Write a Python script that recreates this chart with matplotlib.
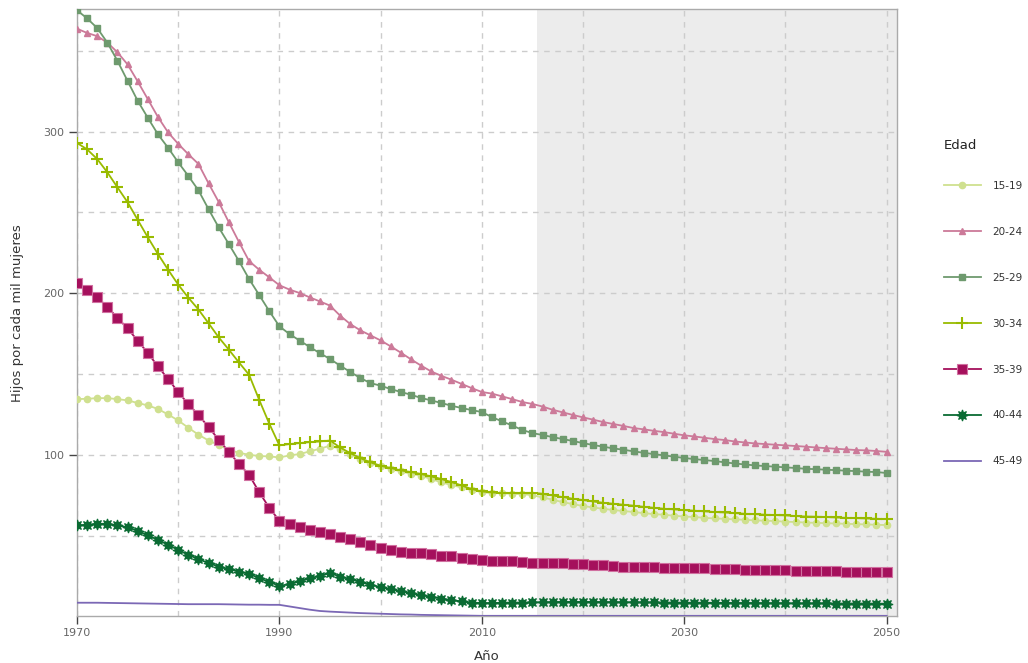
import matplotlib
matplotlib.use("Agg")
import matplotlib.pyplot as plt
from matplotlib.ticker import MultipleLocator, FixedLocator
import numpy as np

years = list(range(1970, 2051))

g15_19 = [134.6, 134.8, 135.2, 135.2, 134.6, 133.8, 132.2, 130.7, 128.5, 125.1,
          121.4, 116.9, 112.6, 109.0, 106.2, 103.3, 101.4, 100.2, 99.4, 99.2,
          98.5, 99.8, 100.6, 102.3, 103.9, 105.8, 103.9, 100.8, 97.7, 95.0,
          93.0, 91.4, 89.9, 88.5, 87.2, 85.2, 83.1, 81.5, 80.0, 78.6,
          77.1, 76.5, 76.5, 76.1, 75.9, 75.2, 73.8, 72.4, 70.9, 69.7,
          68.5, 67.6, 66.8, 66.0, 65.4, 64.8, 64.1, 63.5, 63.1, 62.5,
          62.0, 61.7, 61.2, 60.8, 60.6, 60.2, 60.0, 59.6, 59.4, 59.2,
          58.8, 58.6, 58.3, 58.1, 57.9, 57.7, 57.5, 57.3, 57.1, 56.9, 56.7]

g20_24 = [363.6, 361.0, 359.0, 355.0, 349.0, 341.5, 331.0, 320.0, 309.0, 299.5,
          292.4, 286.0, 280.0, 268.0, 256.5, 244.0, 231.8, 220.0, 214.6, 209.9,
          205.0, 202.3, 200.2, 197.5, 195.0, 192.4, 186.2, 181.0, 177.1, 174.0,
          170.9, 167.2, 163.3, 159.2, 155.3, 151.7, 149.0, 146.6, 144.0, 141.4,
          139.0, 138.0, 136.3, 134.6, 132.8, 131.6, 130.0, 128.0, 126.4, 124.8,
          123.3, 121.9, 120.4, 119.2, 118.0, 116.7, 115.9, 115.0, 114.2, 113.2,
          112.2, 111.5, 110.7, 109.9, 109.3, 108.4, 107.8, 107.2, 106.8, 106.4,
          106.0, 105.6, 105.2, 104.7, 104.3, 103.9, 103.5, 103.1, 102.9, 102.5, 102.0]

g25_29 = [375.0, 370.0, 364.0, 355.0, 343.7, 331.3, 319.0, 308.5, 298.3, 290.0,
          281.0, 272.6, 263.7, 252.0, 240.8, 230.5, 220.0, 208.9, 199.0, 189.0,
          179.6, 174.8, 170.8, 166.8, 163.0, 159.4, 155.3, 151.4, 147.6, 144.5,
          142.9, 140.8, 139.0, 137.3, 135.3, 133.8, 132.2, 130.5, 129.1, 127.8,
          126.6, 123.5, 120.8, 118.3, 115.5, 113.6, 112.4, 111.1, 109.9, 108.7,
          107.4, 106.2, 105.2, 104.1, 103.3, 102.3, 101.4, 100.6, 99.8, 99.0,
          98.2, 97.5, 96.9, 96.3, 95.5, 94.8, 94.2, 93.6, 93.2, 92.8,
          92.4, 92.0, 91.5, 91.3, 90.9, 90.7, 90.3, 90.1, 89.7, 89.5, 88.9]

g30_34 = [293.0, 289.0, 283.0, 274.8, 265.5, 256.3, 245.4, 234.6, 224.3, 214.6,
          205.4, 197.3, 190.0, 181.5, 172.8, 165.2, 157.3, 149.7, 134.2, 119.4,
          106.0, 106.8, 107.4, 108.0, 108.4, 109.0, 104.7, 101.2, 98.1, 95.5,
          93.4, 92.0, 90.5, 89.5, 88.3, 86.8, 85.2, 83.3, 81.2, 79.0,
          77.5, 76.9, 76.5, 76.5, 76.5, 76.7, 76.1, 75.0, 74.0, 73.0,
          72.2, 71.3, 70.5, 69.9, 69.3, 68.7, 68.0, 67.4, 66.8, 66.4,
          66.0, 65.6, 65.2, 64.8, 64.5, 64.1, 63.7, 63.5, 63.1, 62.9,
          62.7, 62.3, 62.0, 61.9, 61.7, 61.4, 61.2, 61.0, 60.8, 60.6, 60.4]

g35_39 = [206.4, 202.3, 197.5, 191.6, 184.8, 178.3, 170.7, 163.1, 154.8, 147.0,
          139.0, 131.5, 124.8, 117.3, 109.5, 102.0, 94.6, 87.8, 77.1, 67.4,
          59.4, 57.4, 55.4, 53.8, 52.4, 51.3, 49.5, 47.8, 46.0, 44.1,
          42.7, 41.3, 40.2, 39.6, 39.2, 38.8, 37.9, 37.3, 36.5, 35.7,
          35.0, 34.6, 34.4, 34.2, 34.0, 33.4, 33.2, 33.0, 33.0, 32.8,
          32.6, 32.2, 31.8, 31.5, 31.1, 31.1, 30.9, 30.7, 30.3, 30.3,
          30.1, 29.9, 29.9, 29.7, 29.5, 29.3, 29.1, 29.1, 28.9, 28.7,
          28.7, 28.5, 28.3, 28.3, 28.1, 28.1, 27.8, 27.8, 27.6, 27.6, 27.4]

g40_44 = [56.5, 56.9, 57.5, 57.5, 56.5, 55.3, 53.2, 50.3, 47.6, 44.5,
          41.4, 38.3, 35.7, 33.2, 31.1, 29.5, 28.0, 26.6, 23.9, 21.5,
          19.2, 20.1, 22.0, 23.7, 25.4, 27.0, 24.9, 23.3, 21.5, 19.8,
          18.4, 17.1, 15.9, 14.7, 13.4, 12.4, 11.3, 10.3, 9.5, 8.8,
          8.5, 8.5, 8.7, 8.8, 8.8, 8.9, 9.0, 9.1, 9.2, 9.2,
          9.2, 9.2, 9.1, 9.1, 9.0, 9.0, 8.9, 8.9, 8.8, 8.8,
          8.7, 8.7, 8.7, 8.6, 8.6, 8.5, 8.5, 8.5, 8.4, 8.4,
          8.4, 8.3, 8.3, 8.3, 8.3, 8.2, 8.2, 8.2, 8.2, 8.1, 8.1]

g45_49 = [8.7, 8.7, 8.7, 8.6, 8.5, 8.4, 8.3, 8.2, 8.1, 8.0,
          7.9, 7.8, 7.8, 7.8, 7.8, 7.7, 7.6, 7.5, 7.5, 7.4,
          7.4, 6.4, 5.4, 4.4, 3.6, 3.2, 2.9, 2.6, 2.3, 2.1,
          1.9, 1.7, 1.5, 1.4, 1.2, 1.1, 1.0, 0.9, 0.8, 0.7,
          0.6, 0.6, 0.6, 0.6, 0.6, 0.6, 0.6, 0.6, 0.6, 0.6,
          0.6, 0.6, 0.6, 0.6, 0.6, 0.6, 0.6, 0.6, 0.6, 0.6,
          0.6, 0.6, 0.6, 0.6, 0.6, 0.6, 0.6, 0.6, 0.6, 0.6,
          0.6, 0.6, 0.6, 0.6, 0.6, 0.6, 0.6, 0.6, 0.6, 0.6, 0.6]

labels = ["15-19", "20-24", "25-29", "30-34", "35-39", "40-44", "45-49"]
x_ticks = [1970, 1990, 2010, 2030, 2050]
y_ticks = [100, 200, 300]
projection_start = 2015.5

plt.rcParams['font.family'] = ['DejaVu Sans']

fig = plt.figure(figsize=(10.28, 6.63), dpi=100)
ax = fig.add_axes([0.0749, 0.0709, 0.7974, 0.9148])

ax.axvspan(projection_start, 2051, color="#ececec", zorder=0, lw=0)

styles = [
    dict(color="#cfe08f", marker="o", ms=4.5, mec="#cfe08f"),
    dict(color="#cc7a99", marker="^", ms=5, mec="#cc7a99"),
    dict(color="#6e9a6e", marker="s", ms=4.5, mec="#6e9a6e"),
    dict(color="#99bb00", marker="+", ms=8, mew=1.5),
    dict(color="#a5105c", marker="s", ms=6.5, mec="#d070a0", mew=0.8),
    dict(color="#0a6b33", marker=(8, 1, 0), ms=8, mec="#0a6b33", mew=0.8),
    dict(color="#7b68b5", marker=None),
]
series = [g15_19, g20_24, g25_29, g30_34, g35_39, g40_44, g45_49]
for vals, lab, st in zip(series, labels, styles):
    ax.plot(years, vals, lw=1.3, label=lab, zorder=3, **st)

ax.set_xlim(1970, 2051)
ax.set_ylim(0.5, 375.5)
ax.xaxis.set_major_locator(FixedLocator(x_ticks))
ax.xaxis.set_minor_locator(MultipleLocator(10))
ax.yaxis.set_major_locator(FixedLocator(y_ticks))
ax.yaxis.set_minor_locator(MultipleLocator(50))
ax.grid(which="both", color="#cccccc", linestyle=(0, (4, 4)), linewidth=1.0, zorder=1)
ax.set_axisbelow(True)
ax.tick_params(which="major", length=6, width=1, color="#444444",
               labelcolor="#666666", labelsize=8, pad=3)
ax.tick_params(which="minor", length=0)
for s in ax.spines.values():
    s.set_color("#aaaaaa")
    s.set_linewidth(1.0)

ax.set_xlabel("Año", fontsize=9.5, color="#333333", labelpad=8)
ax.set_ylabel("Hijos por cada mil mujeres", fontsize=9.5, color="#333333", labelpad=14)

leg = ax.legend(loc="upper left", bbox_to_anchor=(1.052, 0.794), frameon=False,
                title="Edad", fontsize=7.5, title_fontsize=9.5,
                labelspacing=3.45, handlelength=3.6, handletextpad=1.1,
                alignment="left", borderaxespad=0)
leg._legend_box.sep = 21
leg.get_title().set_color("#222222")
for t in leg.get_texts():
    t.set_color("#333333")

fig.savefig("out.png", dpi=100)
